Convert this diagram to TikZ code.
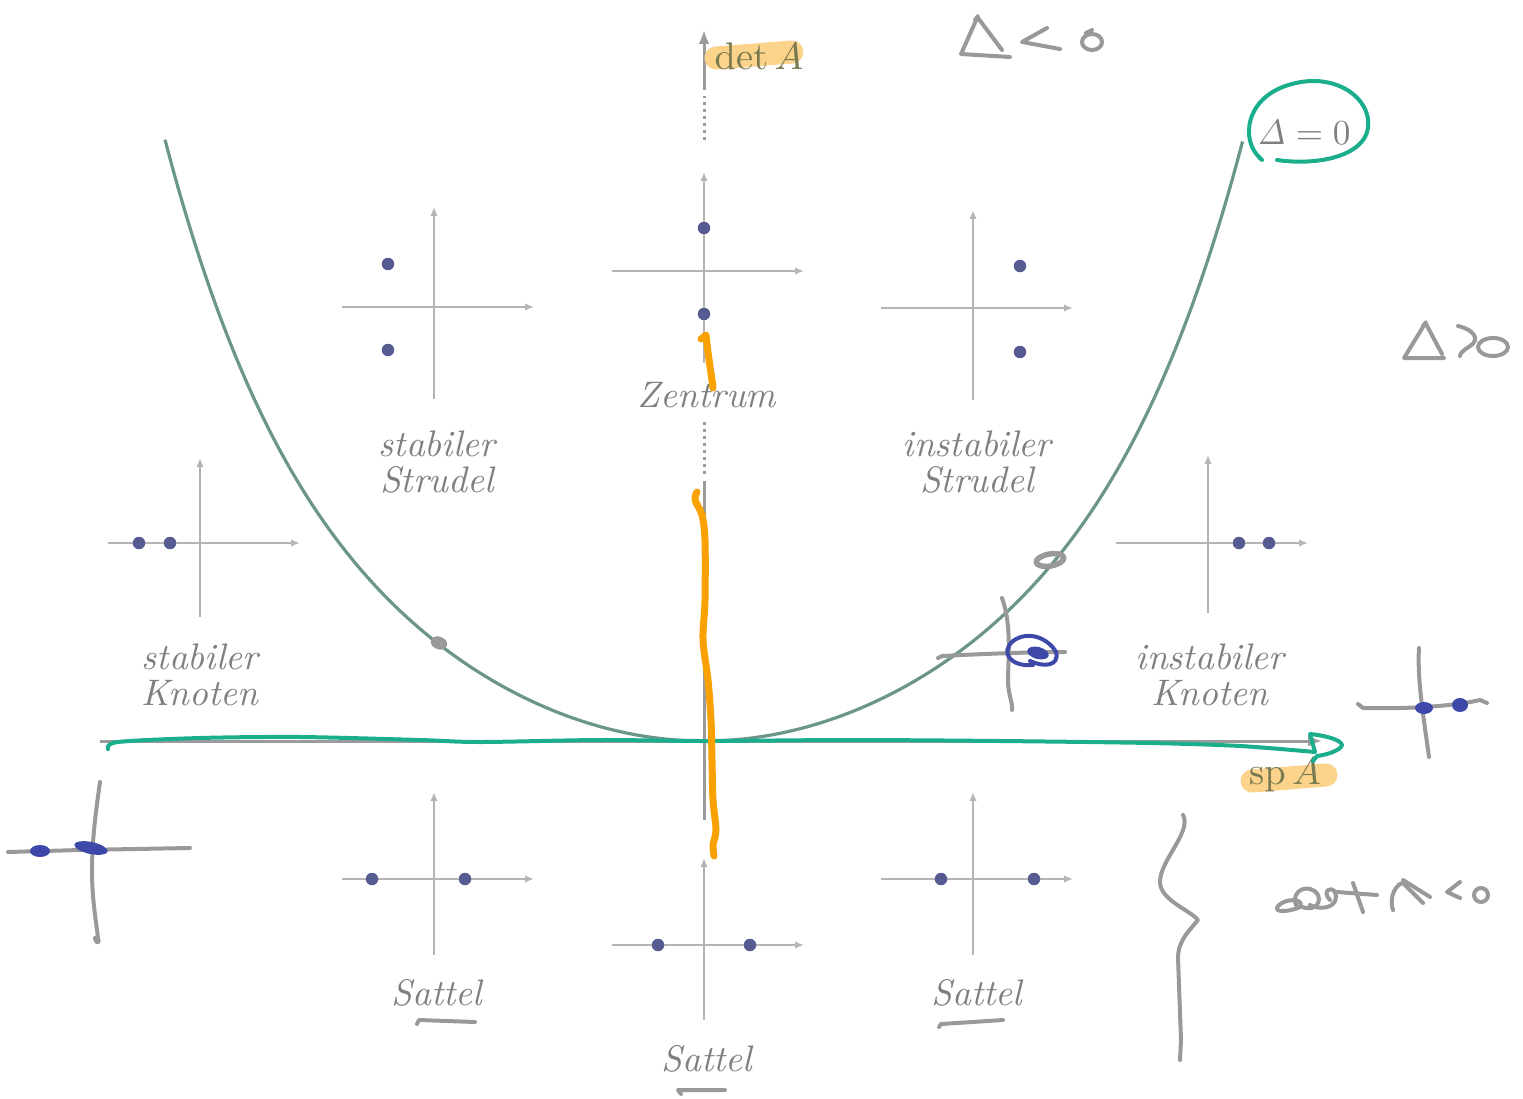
\documentclass[tikz,border=0pt]{standalone}
\usepackage{amsmath,amssymb}
\usepackage{xcolor}
\usetikzlibrary{arrows.meta,positioning,calc}

\definecolor{axisgray}{HTML}{9B9B9B}
\definecolor{planegray}{HTML}{B5B5B5}
\definecolor{eigdot}{HTML}{565C92}
\definecolor{curveteal}{HTML}{6B9689}
\definecolor{labelgray}{HTML}{7F7F7F}
\definecolor{hltext}{HTML}{7A7A50}
\definecolor{pengray}{HTML}{999999}
\definecolor{penteal}{HTML}{1AAE8C}
\definecolor{penorange}{HTML}{F8A100}
\definecolor{penblue}{HTML}{3E48A8}
\definecolor{marker}{HTML}{FBD38A}

\begin{document}
\begin{tikzpicture}[x=0.1mm, y=-0.1mm, >=Latex,
  axis/.style={draw=axisgray, line width=0.3mm},
  plane/.style={draw=planegray, line width=0.2mm, -{Latex[length=0.9mm,width=0.75mm]}},
  ev/.style={circle, fill=eigdot, inner sep=0pt, minimum size=1.25mm},
  lbl/.style={text=labelgray, align=center, font=\fontsize{10.5}{10.3}\selectfont\itshape},
  pen/.style={draw=pengray, line width=0.4mm, line cap=round, line join=round},
  tlpen/.style={draw=penteal, line width=0.4mm, line cap=round, line join=round},
  blpen/.style={draw=penblue, line width=0.4mm, line cap=round, line join=round},
  orpen/.style={draw=penorange, line width=0.7mm, line cap=round, line join=round},
  hl/.style={draw=marker, line width=2.3mm, line cap=round}]
  \useasboundingbox (0,0) rectangle (1523,1099);

  % main axes
  \coordinate (O) at (704,741);
  \coordinate (xl) at (100,741);
  \coordinate (xr) at (1322,741);
  \draw[axis,-{Latex[length=1.4mm,width=1.1mm]}] (xl) -- (xr);
  \coordinate (yb) at (704,820);
  \coordinate (yc) at (704,481);
  \draw[axis] (yb) -- (yc);
  \draw[axis,dash pattern=on 0.3mm off 0.4mm] (704,474) -- (704,420);
  \draw[axis,dash pattern=on 0.3mm off 0.4mm] (704,140) -- (704,96);
  \coordinate (yt) at (704,30);
  \draw[axis,-{Latex[length=1.4mm,width=1.1mm]}] (704,90) -- (yt);

  % small eigenvalue planes
  \foreach \p/\px/\py/\dn/\up in {ss/434/307/92/100, ze/704/271/92/99, is/973/308/92/98,
      sk/200/543/74/85, ik/1208/543/70/88, sl/434/879/76/87, sm/704/945/75/87, sr/973/879/76/87} {
    \coordinate (\p) at (\px,\py);
    \draw[plane] ($(\p)+(-92,0)$) -- ($(\p)+(100,0)$);
    \draw[plane] ($(\p)+(0,\dn)$) -- ($(\p)+(0,-\up)$);
  }
  \node[ev] (ss1) at (388,264) {};
  \node[ev] (ss2) at (388,350) {};
  \node[ev] (ze1) at (704,228) {};
  \node[ev] (ze2) at (704,314) {};
  \node[ev] (is1) at (1020,266) {};
  \node[ev] (is2) at (1020,352) {};
  \node[ev] (sk1) at (139,543) {};
  \node[ev] (sk2) at (170,543) {};
  \node[ev] (ik1) at (1239,543) {};
  \node[ev] (ik2) at (1269,543) {};
  \node[ev] (sl1) at (372,879) {};
  \node[ev] (sl2) at (465,879) {};
  \node[ev] (sm1) at (658,945) {};
  \node[ev] (sm2) at (750,945) {};
  \node[ev] (sr1) at (941,879) {};
  \node[ev] (sr2) at (1034,879) {};

  % Delta = 0
  \draw[curveteal, line width=0.32mm] plot[domain=-1:1, samples=120, smooth]
    ({704+539*\x}, {741-387.6*\x*\x-213.6*\x*\x*\x*\x*\x*\x});

  % labels
  \node[lbl] (lss) at (437,462) {stabiler\\Strudel};
  \node[lbl] (lze) at (707,395) {Zentrum};
  \node[lbl] (lis) at (977,462) {instabiler\\Strudel};
  \node[lbl] (lsk) at (200,675) {stabiler\\Knoten};
  \node[lbl] (lik) at (1210,675) {instabiler\\Knoten};
  \node[lbl] (lsl) at (437,993) {Sattel};
  \node[lbl] (lsr) at (977,993) {Sattel};
  \node[lbl] (lsm) at (707,1059) {Sattel};

  % highlighter
  \draw[hl] (716,58) -- (792,52);
  \draw[hl] (1252,781) -- (1326,775);
  \node[text=hltext, font=\fontsize{11}{11}\selectfont] (detA) at (759,56) {$\det A$};
  \node[text=hltext, font=\fontsize{11}{11}\selectfont] (spA) at (1285,775) {$\operatorname{sp} A$};
  \node[text=labelgray, font=\fontsize{10}{10}\selectfont] (D0) at (1304,132) {$\mathit{\Delta} = 0$};

  % handwriting
  \draw[tlpen] (1259,157) -- (1262,160);
  \draw[tlpen] (1260,158) .. controls (1240,140) and (1245,96) .. (1292,84)
    .. controls (1335,72) and (1372,98) .. (1368,128)
    .. controls (1364,156) and (1318,166) .. (1277,160);
  \draw[tlpen] plot[smooth] coordinates {(108,749) (118,742) (200,738) (300,737) (420,740)
    (480,742) (600,740) (704,741) (850,740) (1000,741) (1150,743) (1240,746) (1315,752)}
    -- (1310,734) .. controls (1330,736) and (1346,742) .. (1341,747)
    .. controls (1336,752) and (1325,755) .. (1317,756) -- (1313,761);

  \draw[pen, line width=0.55mm] (439,643) ellipse[x radius=6, y radius=3.5, rotate=-20];
  \draw[pen, line width=0.55mm] (1050,560) ellipse[x radius=14, y radius=6, rotate=10];

  \draw[pen] (1002,598) .. controls (1012,625) and (1008,660) .. (1008,680)
    .. controls (1008,695) and (1013,703) .. (1012,710);
  \draw[pen] (938,658) -- (942,656) .. controls (980,654) and (1030,652) .. (1065,652);
  \fill[penblue] (1038,653) ellipse[x radius=11, y radius=6, rotate=-15];
  \draw[blpen] (1033,665) .. controls (1010,667) and (1000,652) .. (1013,641)
    .. controls (1028,630) and (1048,638) .. (1056,652)
    .. controls (1060,667) and (1042,667) .. (1030,661);

  \draw[pen] (1419,648) .. controls (1417,680) and (1424,720) .. (1429,757);
  \draw[pen] (1358,704) -- (1363,708) .. controls (1400,709) and (1450,707) .. (1480,700) -- (1487,703);
  \fill[penblue] (1424,708) ellipse[x radius=9, y radius=6];
  \fill[penblue] (1460,705) ellipse[x radius=8, y radius=7];

  \draw[pen] (100,782) .. controls (96,810) and (92,840) .. (92,870)
    .. controls (92,900) and (96,920) .. (98,938) .. controls (100,944) and (96,944) .. (95,938);
  \draw[pen] (8,852) -- (80,850) -- (190,848);
  \fill[penblue] (40,851) ellipse[x radius=10, y radius=6];
  \fill[penblue] (91,848) ellipse[x radius=17, y radius=6, rotate=-12];

  \draw[pen] (1183,815) .. controls (1192,832) and (1160,860) .. (1160,882)
    .. controls (1160,900) and (1190,910) .. (1198,920)
    .. controls (1190,930) and (1178,940) .. (1178,958) -- (1181,1040) -- (1180,1060);

  % Delta < 0
  \draw[pen] (975,20) -- (978,16) -- (961,54) -- (1010,57);
  \draw[pen] (978,18) -- (1002,50);
  \draw[pen] (1047,28) -- (1022,42) -- (1060,49);
  \draw[pen] (1092,42) ellipse[x radius=10, y radius=8];
  \draw[pen] (1086,33) -- (1092,30);

  % Delta > 0
  \draw[pen] (1423,326) -- (1426,322) -- (1404,358) -- (1444,358);
  \draw[pen] (1426,324) -- (1442,354);
  \draw[pen] (1458,326) .. controls (1475,330) and (1480,340) .. (1470,346)
    .. controls (1464,350) and (1460,353) .. (1460,356);
  \draw[pen] (1493,347) ellipse[x radius=15, y radius=9];

  % det A < 0
  \draw[pen] (1300,907) .. controls (1290,912) and (1272,913) .. (1278,906)
    .. controls (1285,898) and (1305,898) .. (1300,907);
  \draw[pen] (1296,905) .. controls (1290,890) and (1310,882) .. (1318,895)
    .. controls (1322,905) and (1312,912) .. (1300,906);
  \draw[pen] (1310,905) .. controls (1325,912) and (1340,905) .. (1335,892)
    .. controls (1330,885) and (1322,892) .. (1330,900);
  \draw[pen] (1353,883) -- (1363,912);
  \draw[pen] (1337,892) -- (1377,895);
  \draw[pen] (1393,910) .. controls (1388,895) and (1398,883) .. (1403,883) -- (1423,903);
  \draw[pen] (1403,880) -- (1430,897);
  \draw[pen] (1460,882) -- (1447,892) -- (1460,898);
  \draw[pen] (1481,895) circle[radius=7];

  % underlines
  \draw[pen] (417,1024) -- (419,1020) -- (475,1022);
  \draw[pen] (939,1027) -- (941,1024) -- (1003,1020);
  \draw[pen] (681,1094) -- (678,1090) -- (725,1090);

  % orange strokes
  \draw[orpen] (701,339) -- (706,335) .. controls (708,355) and (711,372) .. (713,388);
  \draw[orpen] plot[smooth] coordinates {(697,492) (695,500) (702,515) (705,540) (705,600)
    (703,640) (708,680) (711,720) (712,760) (713,800) (716,830) (713,845) (714,856)};
\end{tikzpicture}
\end{document}
